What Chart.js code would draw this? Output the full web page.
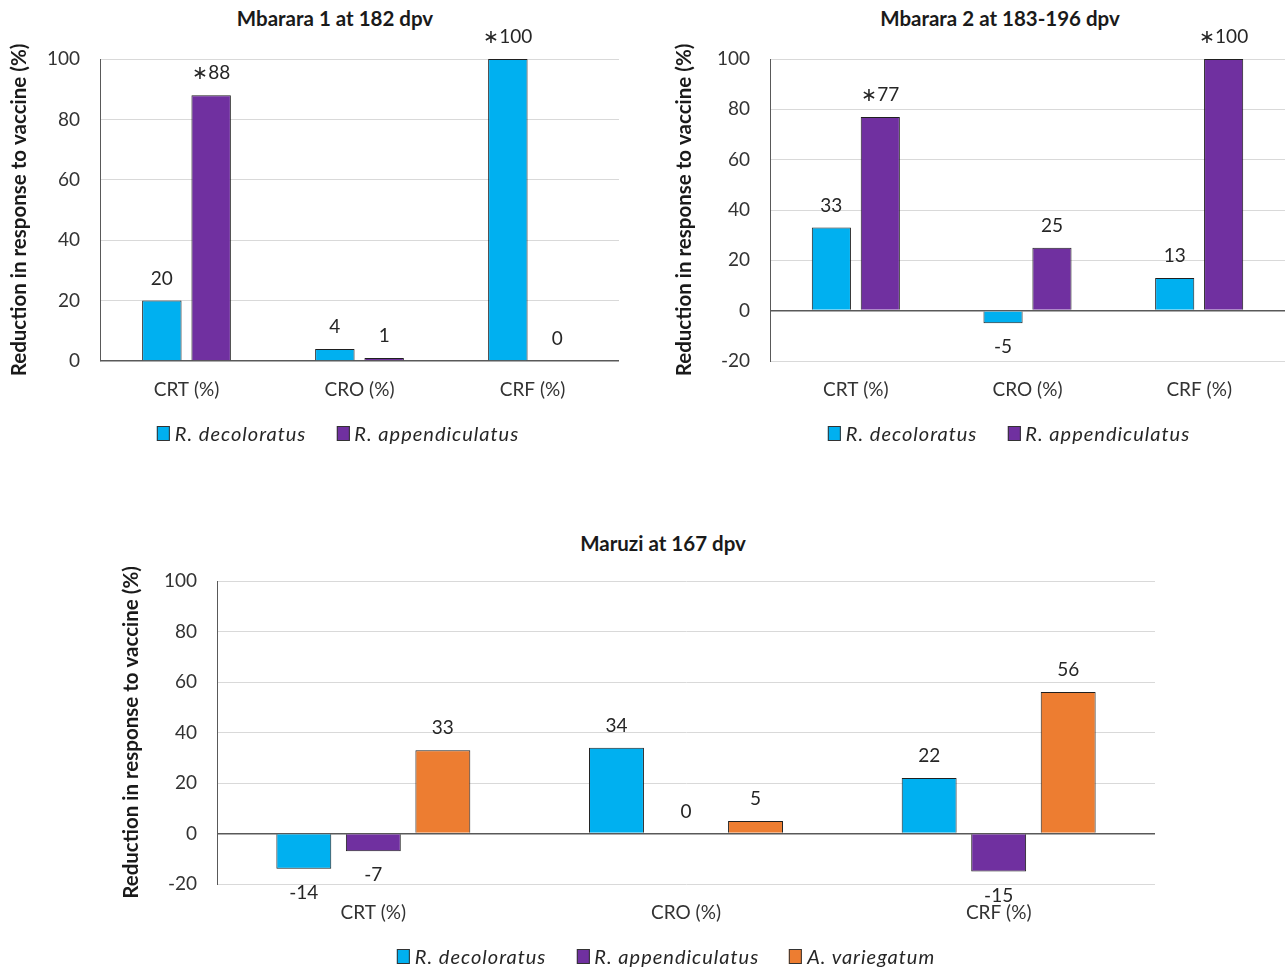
<!DOCTYPE html>
<html><head><meta charset="utf-8">
<script src="https://cdn.jsdelivr.net/npm/chart.js@4.4.1/dist/chart.umd.min.js"></script>
<style>
html,body{margin:0;padding:0;background:#fff;width:1288px;height:967px;overflow:hidden;position:relative;font-family:Lato,'Noto Sans',sans-serif;}
canvas{position:absolute;}
.title{position:absolute;font-weight:bold;font-size:20.5px;line-height:22px;color:#1a1a1a;transform:translateX(-50%);white-space:nowrap;}
.legend{position:absolute;display:flex;align-items:center;font-style:italic;font-size:20px;letter-spacing:1px;color:#262626;transform:translate(-50%,-50%);white-space:nowrap;}
.sw{display:inline-block;width:11px;height:13px;border:1px solid #333;margin-right:5px;}
.item{display:flex;align-items:center;margin:0 15px;}
</style></head>
<body>
<div class="title" id="t1" style="left:335px;top:7px"></div>
<div class="title" id="t2" style="left:1000px;top:7px"></div>
<div class="title" id="t3" style="left:663px;top:532px"></div>
<canvas id="c1"></canvas>
<canvas id="c2"></canvas>
<canvas id="c3"></canvas>
<div class="legend" id="l1" style="left:338px;top:433px"></div>
<div class="legend" id="l2" style="left:1009px;top:433px"></div>
<div class="legend" id="l3" style="left:666px;top:956px"></div>
<script>
// ---- data ----
const categories = ['CRT (%)', 'CRO (%)', 'CRF (%)'];
const seriesNames = ['R. decoloratus', 'R. appendiculatus', 'A. variegatum'];
const seriesColors = ['#00B0F0', '#7030A0', '#ED7D31'];
const yTitle = 'Reduction in response to vaccine (%)';

const title1 = 'Mbarara 1 at 182 dpv';
const m1Decol = [20, 4, 100];
const m1Append = [88, 1, 0];
const m1DecolStar = [false, false, true];
const m1AppendStar = [true, false, false];

const title2 = 'Mbarara 2 at 183-196 dpv';
const m2Decol = [33, -5, 13];
const m2Append = [77, 25, 100];
const m2DecolStar = [false, false, false];
const m2AppendStar = [true, false, true];

const title3 = 'Maruzi at 167 dpv';
const mzDecol = [-14, 34, 22];
const mzAppend = [-7, 0, -15];
const mzVarieg = [33, 5, 56];

const yTicks1 = [0, 20, 40, 60, 80, 100];
const yTicks23 = [-20, 0, 20, 40, 60, 80, 100];

// ---- rendering ----
const FONT = "Lato, 'Noto Sans', sans-serif";

const valueLabels = {
  id: 'valueLabels',
  afterDatasetsDraw(chart) {
    const ctx = chart.ctx;
    ctx.save();
    ctx.font = '19px ' + FONT;
    ctx.fillStyle = '#262626';
    ctx.textAlign = 'center';
    ctx.textBaseline = 'middle';
    chart.data.datasets.forEach((ds, i) => {
      const meta = chart.getDatasetMeta(i);
      meta.data.forEach((bar, j) => {
        const v = ds.data[j];
        const txt = (ds.stars && ds.stars[j] ? '\u2217' : '') + v;
        if (v < 0) ctx.fillText(txt, bar.x, bar.y + 24);
        else ctx.fillText(txt, bar.x, bar.y - 22);
      });
    });
    ctx.restore();
  }
};

function mk(id, left, top, w, h, pad, yW, datasets, ticks, catPct, barPct) {
  const cv = document.getElementById(id);
  cv.width = w; cv.height = h;
  cv.style.left = left + 'px'; cv.style.top = top + 'px';
  return new Chart(cv, {
    type: 'bar',
    data: {
      labels: categories,
      datasets: datasets.map(d => ({
        label: d.name, data: d.data, stars: d.stars,
        backgroundColor: d.color, borderColor: '#1f1f1f', borderWidth: 1,
        categoryPercentage: catPct, barPercentage: barPct
      }))
    },
    options: {
      responsive: false, animation: false, devicePixelRatio: 1,
      layout: { padding: pad },
      plugins: { legend: { display: false }, title: { display: false }, tooltip: { enabled: false } },
      scales: {
        x: {
          grid: { display: false, drawTicks: false }, border: { display: false },
          ticks: { color: '#333', font: { family: FONT, size: 19 }, padding: 17 },
          afterFit(s) { s.height = 60; }
        },
        y: {
          min: ticks[0], max: ticks[ticks.length - 1],
          afterBuildTicks(s) { s.ticks = ticks.map(v => ({ value: v })); },
          grid: {
            drawTicks: false,
            color: c => (c.tick && c.tick.value === 0) ? '#595959' : '#d9d9d9',
            lineWidth: c => (c.tick && c.tick.value === 0) ? 1.6 : 1
          },
          border: { display: true, color: '#595959', width: 1 },
          ticks: { color: '#333', font: { family: FONT, size: 19 }, padding: 20 },
          title: { display: true, text: yTitle, color: '#1a1a1a', font: { family: FONT, size: 20.5, weight: 'bold' }, padding: { top: 3, bottom: 3 } },
          afterFit(s) { s.width = yW; }
        }
      }
    },
    plugins: [valueLabels]
  });
}

mk('c1', 4, 0, 636, 460, { top: 59, right: 21, bottom: 39, left: 0 }, 96,
  [{ name: seriesNames[0], data: m1Decol, stars: m1DecolStar, color: seriesColors[0] },
   { name: seriesNames[1], data: m1Append, stars: m1AppendStar, color: seriesColors[1] }],
  yTicks1, 0.57, 0.8);

mk('c2', 669, 0, 619, 460, { top: 59, right: 3, bottom: 39, left: 0 }, 101,
  [{ name: seriesNames[0], data: m2Decol, stars: m2DecolStar, color: seriesColors[0] },
   { name: seriesNames[1], data: m2Append, stars: m2AppendStar, color: seriesColors[1] }],
  yTicks23, 0.57, 0.8);

mk('c3', 116, 520, 1044, 447, { top: 61, right: 5, bottom: 23, left: 0 }, 101,
  [{ name: seriesNames[0], data: mzDecol, color: seriesColors[0] },
   { name: seriesNames[1], data: mzAppend, color: seriesColors[1] },
   { name: seriesNames[2], data: mzVarieg, color: seriesColors[2] }],
  yTicks23, 0.667, 0.79);

document.getElementById('t1').textContent = title1;
document.getElementById('t2').textContent = title2;
document.getElementById('t3').textContent = title3;

function legend(id, n) {
  const el = document.getElementById(id);
  for (let i = 0; i < n; i++) {
    const it = document.createElement('span'); it.className = 'item';
    const sw = document.createElement('span'); sw.className = 'sw'; sw.style.background = seriesColors[i];
    const tx = document.createElement('span'); tx.textContent = seriesNames[i];
    it.appendChild(sw); it.appendChild(tx); el.appendChild(it);
  }
}
legend('l1', 2); legend('l2', 2); legend('l3', 3);
</script>
</body></html>
